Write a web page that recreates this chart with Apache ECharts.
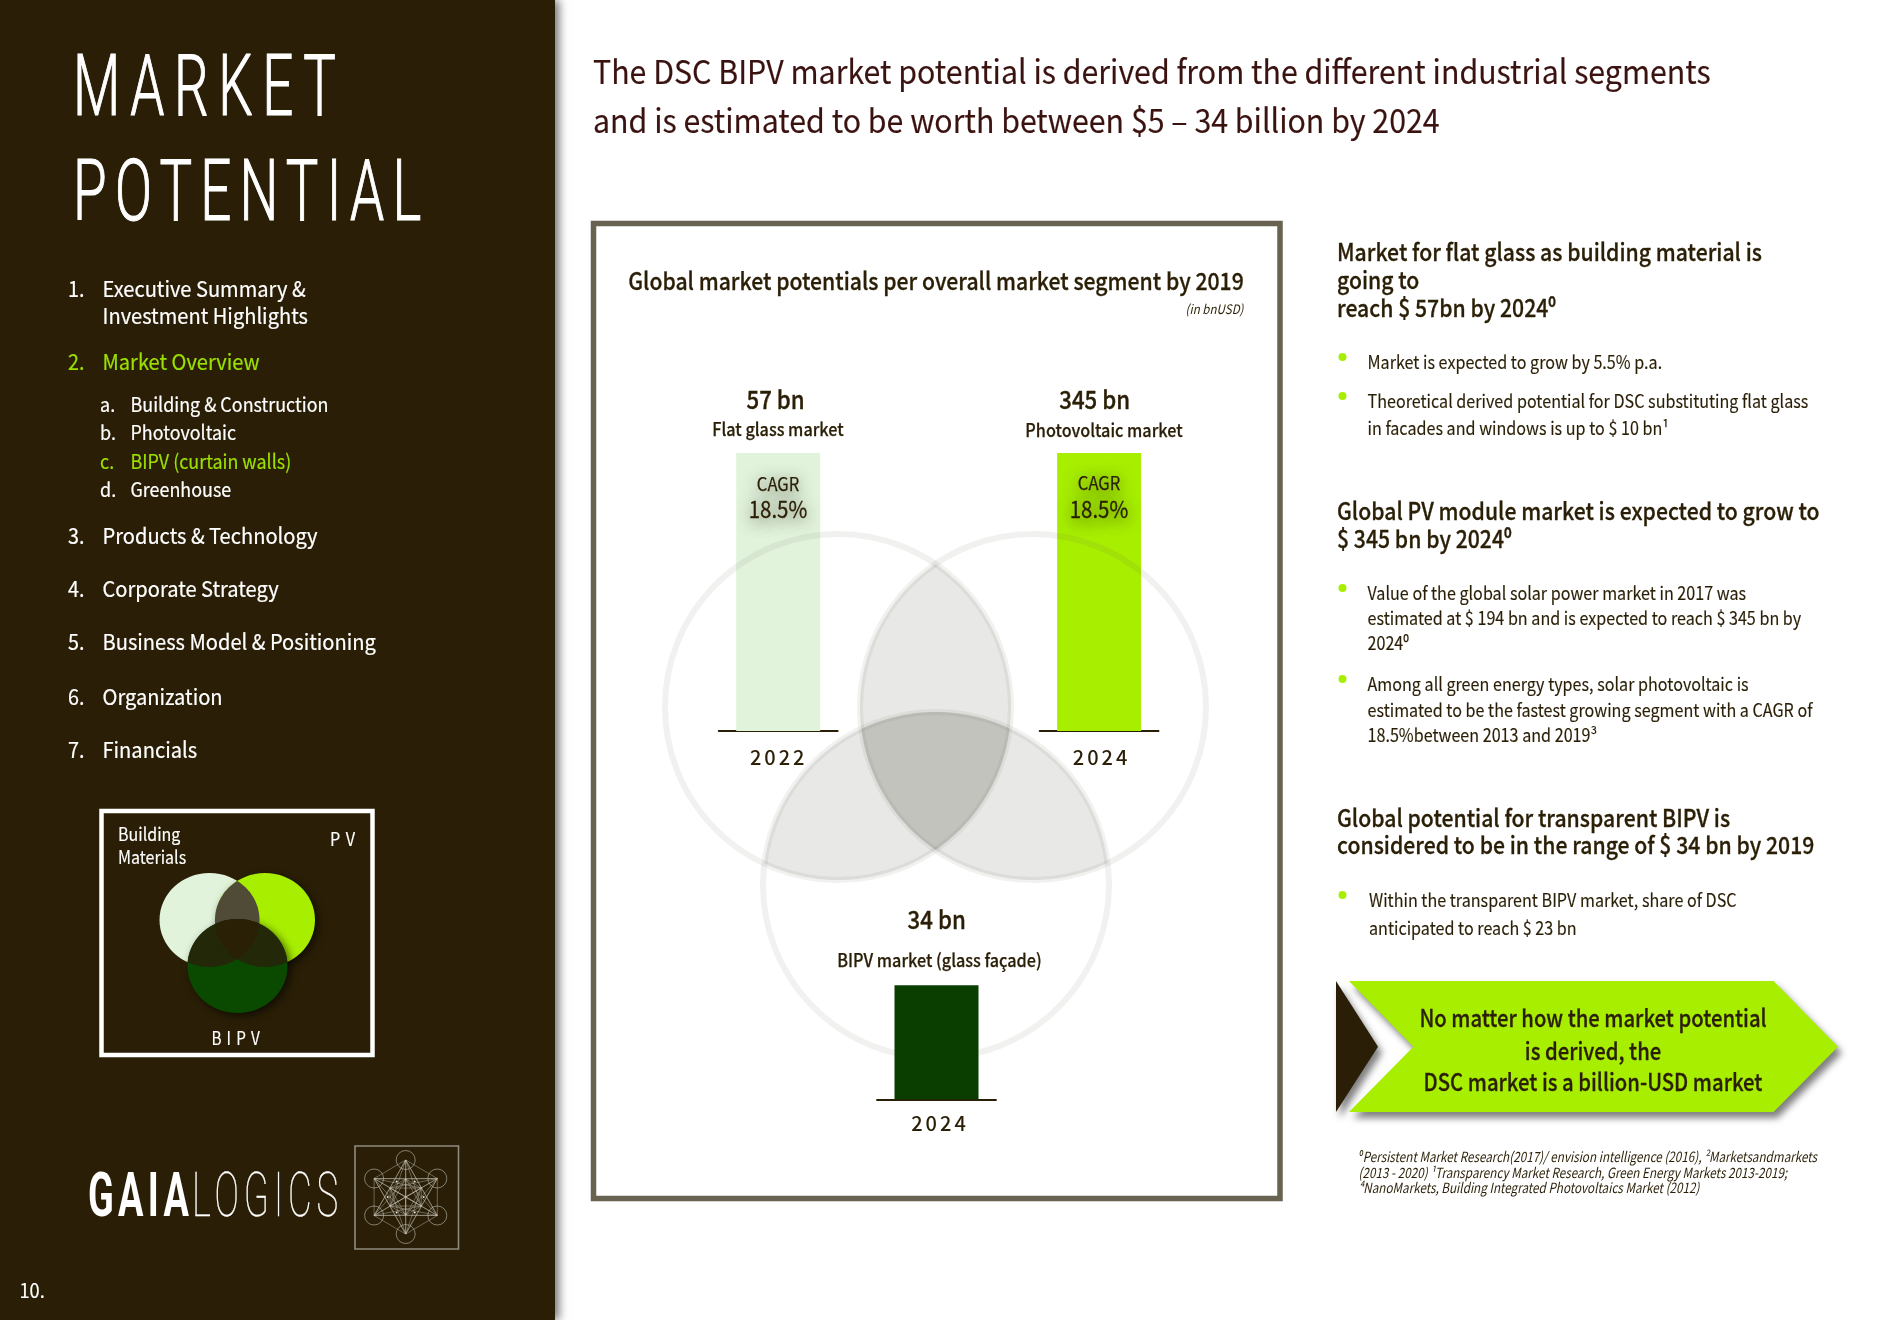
<!DOCTYPE html>
<html><head><meta charset="utf-8">
<style>html,body{margin:0;padding:0;background:#fff}#c{width:1879px;height:1320px}</style>
<script src="https://cdn.jsdelivr.net/npm/echarts@6/dist/echarts.min.js"></script>
</head><body><div id="c"></div>
<script>
// ---- data ----
const years = ['2022', '2024', '2024'];
const marketLabels = ['57 bn', '345 bn', '34 bn'];
const segments = ['Flat glass market', 'Photovoltaic market', 'BIPV market (glass façade)'];
const drawnHeights = [100, 100, 41];
const cagrLabels = ['CAGR', '18.5%'];
const headline = ['The DSC BIPV market potential is derived from the different industrial segments', 'and is estimated to be worth between $5 – 34 billion by 2024'];
const chartTitle = 'Global market potentials per overall market segment by 2019';
const unitNote = '(in bnUSD)';
const calloutLines = ['No matter how the market potential', 'is derived, the', 'DSC market is a billion-USD market'];
const footnotes = ['⁰Persistent Market Research(2017)/ envision intelligence (2016), ²Marketsandmarkets', '(2013 - 2020) ¹Transparency Market Research, Green Energy Markets 2013-2019;', '⁴NanoMarkets, Building Integrated Photovoltaics Market (2012)'];

const DARK = '#2a1f06', LIME = '#a8ee00', PALE = '#e2f3dc', FOREST = '#0a3e00', FRAME = '#686250', MENU = '#9be000';
const FONT = '"Noto Sans CJK SC","Noto Sans",sans-serif';

// letter spacing for the spaced-out labels
const SPACING = {'MARKET': 15, 'POTENTIAL': 13, 'GAIA': 7, 'LOGICS': 8, '2022': 3, '2024': 3, 'P V': 1, 'B I P V': 1};
const wrap = name => {
  const native = CanvasRenderingContext2D.prototype[name];
  CanvasRenderingContext2D.prototype[name] = function (s, x, y, m) {
    const ls = SPACING[s];
    if (ls) this.letterSpacing = ls + 'px';
    if (m === undefined) native.call(this, s, x, y); else native.call(this, s, x, y, m);
    if (ls) this.letterSpacing = '0px';
  };
};
wrap('fillText'); wrap('strokeText');

const g = [];
function T(text, x, y, size, o) {
  o = o || {};
  const fill = o.fill || DARK;
  g.push({type: 'text', z: o.z || 20, x, y, scaleX: o.sx || 1, originX: 0, originY: 0, silent: true,
    style: {text, fill, fontSize: size, fontFamily: o.family || FONT, fontWeight: o.w || 400,
      fontStyle: o.i ? 'italic' : 'normal', align: o.a || 'left', verticalAlign: 'middle',
      stroke: o.b ? fill : null, lineWidth: o.b || 0,
      textShadowBlur: o.glow || 0, textShadowColor: o.glow ? 'rgba(42,31,6,0.6)' : 'transparent', textShadowOffsetY: o.glow ? 3 : 0}});
}
function intersect(a, b) {
  const dx = b.x - a.x, dy = b.y - a.y, d = Math.hypot(dx, dy), l = (d * d + a.r * a.r - b.r * b.r) / (2 * d),
    h = Math.sqrt(a.r * a.r - l * l), mx = a.x + dx * l / d, my = a.y + dy * l / d;
  return [[mx - dy * h / d, my + dx * h / d], [mx + dy * h / d, my - dx * h / d]];
}
function arc(c, p, q) {
  const a0 = Math.atan2(p[1] - c.y, p[0] - c.x); let da = Math.atan2(q[1] - c.y, q[0] - c.x) - a0;
  while (da > Math.PI) da -= 2 * Math.PI; while (da < -Math.PI) da += 2 * Math.PI;
  const out = [];
  for (let i = 0; i <= 60; i++) out.push([c.x + c.r * Math.cos(a0 + da * i / 60), c.y + c.r * Math.sin(a0 + da * i / 60)]);
  return out;
}
function lens(a, b) { const [p, q] = intersect(a, b); return arc(a, p, q).concat(arc(b, q, p)); }
function inside(p, c) { return Math.hypot(p[0] - c.x, p[1] - c.y) < c.r; }
function triple(a, b, c) {
  const pab = intersect(a, b).find(p => inside(p, c)), pbc = intersect(b, c).find(p => inside(p, a)), pca = intersect(c, a).find(p => inside(p, b));
  return arc(b, pab, pbc).concat(arc(c, pbc, pca), arc(a, pca, pab));
}
function poly(points, style, z) { g.push({type: 'polygon', z, silent: true, shape: {points}, style}); }

// ---- page surfaces ----
g.push({type: 'rect', z: -2, silent: true, shape: {x: 0, y: 0, width: 555, height: 1320},
  style: {fill: DARK, shadowBlur: 9, shadowOffsetX: 4, shadowColor: 'rgba(0,0,0,0.55)'}});
g.push({type: 'rect', z: -1, silent: true, shape: {x: 593.5, y: 223.5, width: 686.5, height: 975},
  style: {fill: '#fff', stroke: FRAME, lineWidth: 5.5}});

// ---- sidebar ----
T('MARKET', 73, 93, 86, {family: 'Roboto', w: 300, sx: 0.635, fill: '#fff', b: 1.2});
T('POTENTIAL', 73, 198, 86, {family: 'Roboto', w: 300, sx: 0.635, fill: '#fff', b: 1.2});
[[ '1.', 'Executive Summary &', 289, 0], ['', 'Investment Highlights', 316, 0], ['2.', 'Market Overview', 362, 1],
 ['3.', 'Products & Technology', 536, 0], ['4.', 'Corporate Strategy', 589, 0], ['5.', 'Business Model & Positioning', 642, 0],
 ['6.', 'Organization', 697, 0], ['7.', 'Financials', 750, 0]].forEach(r => {
  const fill = r[3] ? MENU : '#fff';
  if (r[0]) T(r[0], 68, r[2], 22, {fill, sx: 0.9, b: 0.2});
  T(r[1], 102.5, r[2], 22, {fill, sx: 0.913, b: 0.2});
});
[['a.', 'Building & Construction', 404, 0], ['b.', 'Photovoltaic', 432, 0], ['c.', 'BIPV (curtain walls)', 461, 1], ['d.', 'Greenhouse', 489, 0]].forEach(r => {
  const fill = r[3] ? MENU : '#fff';
  T(r[0], 100, r[2], 20, {fill, sx: 0.9, b: 0.2});
  T(r[1], 130.5, r[2], 20, {fill, sx: 0.895, b: 0.2});
});
g.push({type: 'rect', z: 1, silent: true, shape: {x: 101.5, y: 811, width: 271, height: 244}, style: {fill: 'none', stroke: '#fff', lineWidth: 4.5}});
T('Building', 118, 834, 18, {fill: '#fff', sx: 0.89, b: 0.15});
T('Materials', 118, 857, 18, {fill: '#fff', sx: 0.89, b: 0.15});
T('P V', 330, 839, 18, {fill: '#fff', sx: 0.9, b: 0.15});
T('B I P V', 236, 1038, 18, {fill: '#fff', a: 'center', sx: 0.85, b: 0.15});

// small venn: slightly flattened circles (rx 50, ry 47), centres given in flattened space
const SQ = 47 / 50;
const sq = pts => pts.map(p => [p[0], p[1] * SQ]);
const sA = {x: 209.5, y: 920 / SQ, r: 50}, sB = {x: 265, y: 920 / SQ, r: 50}, sC = {x: 237.5, y: 966 / SQ, r: 50};
const ell = (c, style, z) => g.push({type: 'ellipse', z, silent: true, shape: {cx: c.x, cy: c.y * SQ, rx: c.r, ry: c.r * SQ}, style});
ell(sA, {fill: PALE}, 1);
ell(sB, {fill: LIME, shadowBlur: 8, shadowOffsetX: 3, shadowOffsetY: 3, shadowColor: 'rgba(0,0,0,0.6)'}, 2);
ell(sC, {fill: '#0a4a00', shadowBlur: 8, shadowOffsetX: 3, shadowOffsetY: 3, shadowColor: 'rgba(0,0,0,0.6)'}, 3);
poly(sq(lens(sA, sB)), {fill: '#4f4b36'}, 4);
poly(sq(lens(sA, sC)), {fill: '#232808'}, 4);
poly(sq(lens(sB, sC)), {fill: '#232808'}, 4);
poly(sq(triple(sA, sB, sC)), {fill: '#2a2006'}, 5);

// logo
T('GAIA', 88, 1201, 61, {family: 'Roboto', w: 700, sx: 0.62, fill: '#fff'});
T('LOGICS', 192, 1201, 61, {family: 'Roboto', w: 100, sx: 0.6, fill: '#fff', b: 0.4});
g.push({type: 'rect', z: 1, silent: true, shape: {x: 355, y: 1146, width: 103.5, height: 103}, style: {fill: 'none', stroke: '#8e8a7e', lineWidth: 1.6}});
(function () {
  const cx = 405.7, cy = 1197, stroke = '#cfccc2';
  const hex = (rx, ry, off) => [0, 1, 2, 3, 4, 5].map(i => { const a = -Math.PI / 2 + i * Math.PI / 3 + off; return [cx + rx * Math.cos(a), cy + ry * Math.sin(a)]; });
  const outer = hex(36.5, 37, 0), inner = hex(18, 18, 0), inner2 = hex(18, 18, Math.PI / 6);
  outer.forEach(p => g.push({type: 'circle', z: 2, silent: true, shape: {cx: p[0], cy: p[1], r: 9.5}, style: {fill: 'none', stroke: '#a9a69c', lineWidth: 0.7}}));
  const all = outer.concat(inner);
  all.forEach((p, i) => all.forEach((q, j) => { if (j > i && !(i < 6 && j < 6 && Math.abs(i - j) === 3)) g.push({type: 'line', z: 2, silent: true, shape: {x1: p[0], y1: p[1], x2: q[0], y2: q[1]}, style: {stroke, lineWidth: 0.55, opacity: 0.75}}); }));
  inner2.forEach(p => g.push({type: 'circle', z: 2, silent: true, shape: {cx: p[0], cy: p[1], r: 1}, style: {fill: '#e8e6dd'}}));
})();
T('10.', 19.5, 1290, 20, {fill: '#fff', sx: 0.91, b: 0.2});

// ---- headline ----
T(headline[0], 593, 71, 33, {fill: '#3a1210', sx: 0.919, b: 0.15});
T(headline[1], 593, 120, 33, {fill: '#3a1210', sx: 0.919, b: 0.15});

// ---- venn behind the bars ----
const vA = {x: 838, y: 707, r: 173}, vB = {x: 1033, y: 707, r: 173}, vC = {x: 936, y: 885, r: 173};
const veil = a => `rgba(100,100,84,${a})`;
const circle = (c, style, z) => g.push({type: 'circle', z, silent: true, shape: {cx: c.x, cy: c.y, r: c.r}, style});
poly(lens(vA, vB), {fill: veil(0.148)}, 4);
poly(lens(vA, vC), {fill: veil(0.148)}, 4);
poly(lens(vB, vC), {fill: veil(0.148)}, 4);
[vA, vB, vC].forEach(c => circle(c, {fill: 'none', stroke: veil(0.09), lineWidth: 6}, 5));

// ---- chart text ----
T(chartTitle, 936, 281, 24, {a: 'center', w: 500, sx: 0.883, b: 0.3});
T(unitNote, 1243.5, 309, 13, {a: 'right', i: true, sx: 0.89});
const valueX = [775.6, 1094.7, 936.7], valueY = [399.5, 399.5, 919.5];
const segX = [778, 1104, 939.5], segY = [429, 430, 960];
marketLabels.forEach((s, i) => T(s, valueX[i], valueY[i], 25, {a: 'center', w: 500, sx: 0.89, b: 0.35}));
segments.forEach((s, i) => T(s, segX[i], segY[i], 18, {a: 'center', w: 500, sx: 0.9, b: 0.25}));
[[778, 484, 509.5], [1099, 483, 509]].forEach(p => {
  T(cagrLabels[0], p[0], p[1], 18, {a: 'center', glow: 16, sx: 0.92, b: 0.25});
  T(cagrLabels[1], p[0], p[2], 23, {a: 'center', glow: 16, sx: 0.89, b: 0.3});
});

// ---- right column ----
const H = (s, y) => T(s, 1337, y, 24, {w: 500, sx: 0.883, b: 0.3});
H('Market for flat glass as building material is', 252); H('going to', 280); H('reach $ 57bn by 2024⁰', 307.5);
H('Global PV module market is expected to grow to', 511); H('$ 345 bn by 2024⁰', 538.5);
H('Global potential for transparent BIPV is', 818); H('considered to be in the range of $ 34 bn by 2019', 845);
const P = (s, y, x) => T(s, x || 1367.5, y, 18.5, {sx: 0.872, b: 0.15});
const dot = y => g.push({type: 'circle', z: 5, silent: true, shape: {cx: 1342.5, cy: y, r: 4}, style: {fill: LIME}});
dot(357); P('Market is expected to grow by 5.5% p.a.', 362);
dot(396); P('Theoretical derived potential for DSC substituting flat glass', 401); P('in facades and windows is up to $ 10 bn¹', 428);
dot(588); P('Value of the global solar power market in 2017 was', 593); P('estimated at $ 194 bn and is expected to reach $ 345 bn by', 618); P('2024⁰', 643);
dot(679); P('Among all green energy types, solar photovoltaic is', 684); P('estimated to be the fastest growing segment with a CAGR of', 710); P('18.5%between 2013 and 2019³', 735);
dot(895); P('Within the transparent BIPV market, share of DSC', 900, 1369); P('anticipated to reach $ 23 bn', 928, 1369);

// callout
const shade = {shadowBlur: 7, shadowOffsetX: 4, shadowOffsetY: 6, shadowColor: 'rgba(0,0,0,0.5)'};
poly([[1336, 981], [1378, 1046.7], [1336, 1112]], Object.assign({fill: DARK}, shade), 6);
poly([[1349, 981], [1773.5, 981], [1838, 1046.7], [1773.5, 1112], [1349, 1112], [1413.4, 1046.7]], Object.assign({fill: LIME}, shade), 6);
[1018, 1051, 1082].forEach((y, i) => T(calloutLines[i], 1593, y, 24, {a: 'center', w: 500, sx: 0.845, b: 0.3}));
footnotes.forEach((s, i) => T(s, 1358.5, [1157, 1173, 1188][i], 14, {i: true, sx: 0.835}));

// ---- bars, through the library's own scales ----
const barLeft = [718.7, 1039.6, 877], baseY = [731, 731, 1099.3], colors = [PALE, LIME, FOREST];
const labelMargin = [16, 16, 14], labelPad = [1, 5, 7];
const grids = [], xAxes = [], yAxes = [], series = [];
years.forEach((y, i) => {
  grids.push({left: barLeft[i], top: baseY[i] - 278, width: 119, height: 278});
  xAxes.push({type: 'category', gridIndex: i, data: [y], axisTick: {show: false},
    axisLine: {lineStyle: {color: DARK, width: 1.8}},
    axisLabel: {color: DARK, fontSize: 20, fontWeight: 500, fontFamily: FONT, margin: labelMargin[i], padding: [0, 0, 0, labelPad[i]]}});
  yAxes.push({type: 'value', gridIndex: i, min: 0, max: 100, show: false});
  series.push({type: 'bar', xAxisIndex: i, yAxisIndex: i, data: [drawnHeights[i]], barWidth: 84, silent: true, animation: false, z: i === 2 ? 10 : 2, itemStyle: {color: colors[i]}});
});

const chart = echarts.init(document.getElementById('c'), null, {renderer: 'canvas', width: 1879, height: 1320});
chart.setOption({backgroundColor: '#fff', animation: false, grid: grids, xAxis: xAxes, yAxis: yAxes, series, graphic: {elements: g}});
</script></body></html>
